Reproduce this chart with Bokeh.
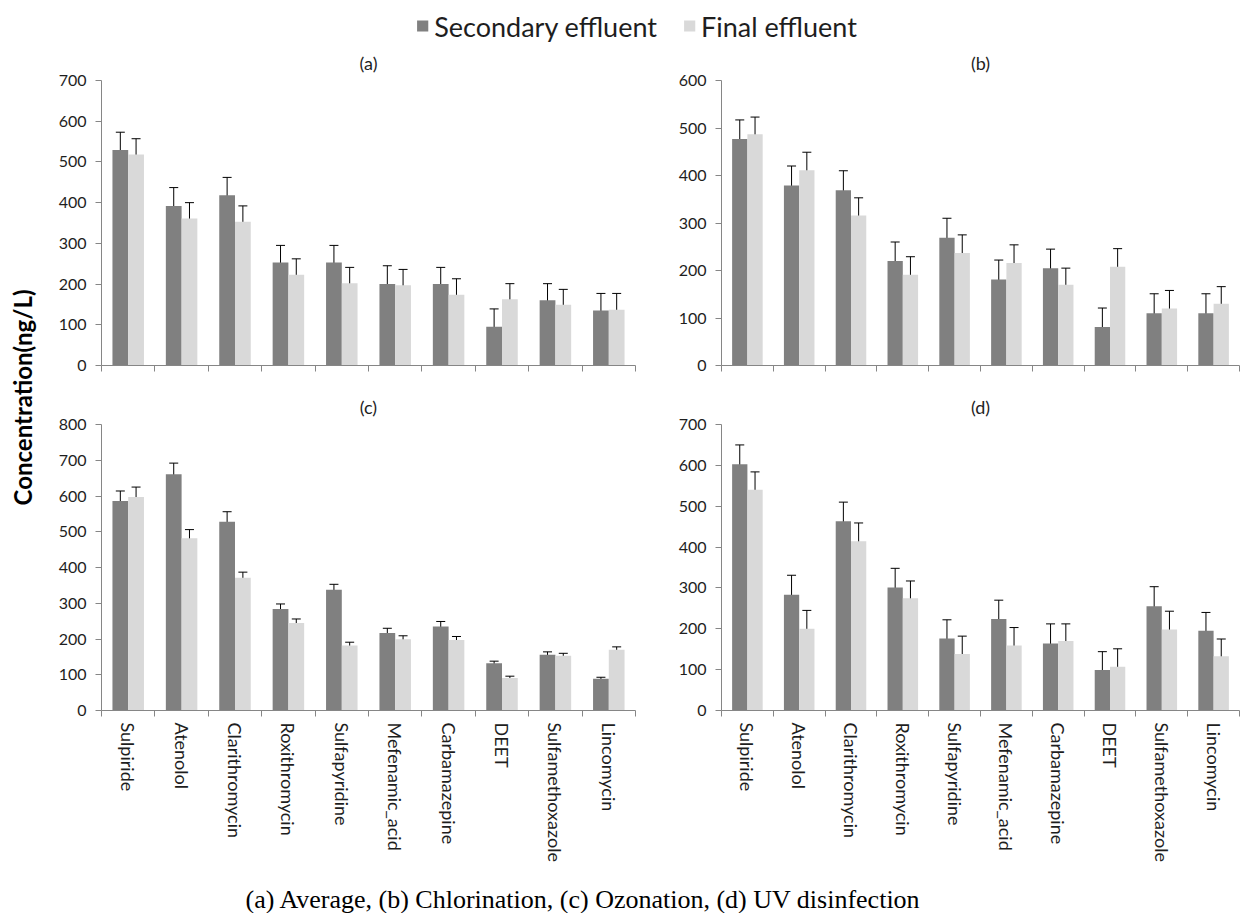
import math
import numpy as np
from bokeh.plotting import figure
from bokeh.models import (ColumnDataSource, Whisker, TeeHead, FixedTicker, Range1d,
                          Legend, LegendItem, Spacer)
from bokeh.layouts import column, row
from bokeh.embed import file_html
from bokeh.resources import INLINE

# ---------------- data ----------------
compounds = ["Sulpiride", "Atenolol", "Clarithromycin", "Roxithromycin", "Sulfapyridine",
             "Mefenamic_acid", "Carbamazepine", "DEET", "Sulfamethoxazole", "Lincomycin"]

# (a) Average
avg_secondary = [529, 392, 418, 253, 253, 200, 200, 95, 160, 135]
avg_secondary_err = [44, 45, 44, 42, 42, 45, 41, 44, 41, 42]
avg_final = [518, 361, 353, 223, 202, 197, 174, 163, 149, 137]
avg_final_err = [39, 39, 39, 39, 39, 39, 39, 38, 38, 40]

# (b) Chlorination
chl_secondary = [477, 379, 369, 220, 269, 181, 205, 81, 110, 110]
chl_secondary_err = [40, 41, 41, 40, 41, 41, 40, 40, 41, 41]
chl_final = [487, 411, 316, 191, 237, 216, 170, 208, 120, 130]
chl_final_err = [36, 38, 37, 38, 38, 38, 35, 38, 38, 36]

# (c) Ozonation
ozo_secondary = [586, 661, 528, 284, 338, 217, 235, 132, 156, 89]
ozo_secondary_err = [28, 31, 28, 14, 15, 13, 14, 6, 8, 4]
ozo_final = [597, 482, 371, 245, 182, 199, 197, 91, 153, 170]
ozo_final_err = [28, 24, 16, 11, 9, 10, 10, 5, 7, 8]

# (d) UV disinfection
uv_secondary = [603, 283, 463, 301, 176, 224, 164, 99, 255, 195]
uv_secondary_err = [47, 48, 47, 47, 46, 46, 48, 45, 48, 45]
uv_final = [540, 200, 414, 275, 138, 159, 170, 107, 198, 133]
uv_final_err = [44, 45, 45, 42, 44, 44, 42, 44, 45, 42]

panel_titles = ["(a)", "(b)", "(c)", "(d)"]
y_max = [700, 600, 800, 700]
series_labels = ["Secondary effluent", "Final effluent"]
y_title = "Concentration(ng/L)"
caption = "(a) Average, (b) Chlorination, (c) Ozonation, (d) UV disinfection"

# ---------------- style ----------------
DARK = "#808080"
LIGHT = "#d9d9d9"
AXIS = "#868686"
TXT = "#1e1e1e"
FONT = "Lato"
BW = 0.295


def bar_source(sec, sec_err, fin, fin_err):
    n = len(compounds)
    centers = np.arange(n) + 0.5
    sec = np.array(sec, float)
    fin = np.array(fin, float)
    se = np.array(sec_err, float)
    fe = np.array(fin_err, float)
    return ColumnDataSource(dict(
        xs=centers - BW / 2, xf=centers + BW / 2,
        sec=sec, sec_lo=sec - se, sec_hi=sec + se,
        fin=fin, fin_lo=fin - fe, fin_hi=fin + fe,
    ))


def make_panel(title, sec, sec_err, fin, fin_err, ymax, width, height,
               mbl, mbr, mbt, mbb, show_labels):
    n = len(compounds)
    centers = np.arange(n) + 0.5
    src = bar_source(sec, sec_err, fin, fin_err)
    p = figure(width=width, height=height, x_range=Range1d(0, n), y_range=Range1d(0, ymax),
               output_backend="svg", toolbar_location=None,
               min_border_left=mbl, min_border_right=mbr,
               min_border_top=mbt, min_border_bottom=mbb)
    p.title.text = title
    p.title.align = "center"
    p.title.text_font = FONT
    p.title.text_font_size = "18px"
    p.title.text_font_style = "normal"
    p.title.text_color = TXT
    p.title.standoff = 13

    p.vbar(x="xs", top="sec", width=BW, bottom=0, fill_color=DARK, line_color=None, source=src)
    p.vbar(x="xf", top="fin", width=BW, bottom=0, fill_color=LIGHT, line_color=None, source=src)
    for base, lo, hi in (("xs", "sec_lo", "sec_hi"), ("xf", "fin_lo", "fin_hi")):
        p.add_layout(Whisker(base=base, lower=lo, upper=hi, source=src, dimension="height",
                             line_color="black", line_width=1,
                             upper_head=TeeHead(size=9, line_color="black", line_width=1),
                             lower_head=TeeHead(size=9, line_color="black", line_width=1)))

    p.grid.visible = False
    p.outline_line_color = None
    p.background_fill_color = None
    p.border_fill_color = None

    xa = p.xaxis[0]
    xa.ticker = FixedTicker(ticks=list(centers) if show_labels else [],
                            minor_ticks=list(range(n + 1)))
    if show_labels:
        xa.major_label_overrides = {float(c): name for c, name in zip(centers, compounds)}
    xa.major_label_orientation = -math.pi / 2
    xa.major_tick_line_color = None
    xa.major_tick_out = 6
    xa.major_tick_in = 0
    xa.minor_tick_out = 6
    xa.minor_tick_in = 0
    xa.minor_tick_line_color = AXIS
    xa.axis_line_color = AXIS
    xa.major_label_standoff = 6
    xa.major_label_text_font = FONT
    xa.major_label_text_font_size = "18px"
    xa.major_label_text_color = TXT

    ya = p.yaxis[0]
    ya.ticker = FixedTicker(ticks=list(range(0, ymax + 1, 100)), minor_ticks=[])
    ya.major_tick_out = 6
    ya.major_tick_in = 0
    ya.major_tick_line_color = AXIS
    ya.minor_tick_line_color = None
    ya.axis_line_color = AXIS
    ya.major_label_standoff = 9
    ya.major_label_text_font = FONT
    ya.major_label_text_font_size = "16px"
    ya.major_label_text_color = TXT
    return p


W_L, W_R = 620, 574
H1, H2 = 343, 489
pa = make_panel(panel_titles[0], avg_secondary, avg_secondary_err, avg_final, avg_final_err,
                y_max[0], W_L, H1, 54, 32, 36, 21, False)
pb = make_panel(panel_titles[1], chl_secondary, chl_secondary_err, chl_final, chl_final_err,
                y_max[1], W_R, H1, 54, 2, 36, 21, False)
pc = make_panel(panel_titles[2], ozo_secondary, ozo_secondary_err, ozo_final, ozo_final_err,
                y_max[2], W_L, H2, 54, 32, 38, 165, True)
pd = make_panel(panel_titles[3], uv_secondary, uv_secondary_err, uv_final, uv_final_err,
                y_max[3], W_R, H2, 54, 2, 38, 165, True)

TOTAL_W = 47 + W_L + W_R

# ---------------- legend strip ----------------
# the swatch renderers hold the data but sit outside the visible range of this strip
leg = figure(width=TOTAL_W, height=43, output_backend="svg", toolbar_location=None,
             x_axis_type=None, y_axis_type=None, x_range=Range1d(0, len(compounds)),
             y_range=Range1d(5000, 5001),
             min_border_left=386, min_border_right=355, min_border_top=8, min_border_bottom=0)
leg.outline_line_color = None
leg.grid.visible = False
lsrc = bar_source(avg_secondary, avg_secondary_err, avg_final, avg_final_err)
r1 = leg.vbar(x="xs", top="sec", width=BW, bottom=0, fill_color=DARK, line_color=None, source=lsrc)
r2 = leg.vbar(x="xf", top="fin", width=BW, bottom=0, fill_color=LIGHT, line_color=None, source=lsrc)
legend = Legend(items=[LegendItem(label=series_labels[0], renderers=[r1]),
                       LegendItem(label=series_labels[1], renderers=[r2])],
                orientation="horizontal", location="center",
                glyph_width=14, glyph_height=14, label_standoff=5, spacing=25,
                padding=0, margin=0, border_line_color=None, background_fill_alpha=0,
                label_text_font=FONT, label_text_font_size="27px", label_text_color=TXT)
leg.add_layout(legend, "center")

# ---------------- y title strip ----------------
yt = figure(width=47, height=H1 + H2, output_backend="svg", toolbar_location=None,
            x_axis_type=None, y_axis_type=None, x_range=Range1d(0, 1), y_range=Range1d(0, 1),
            title=y_title, title_location="left",
            min_border_left=0, min_border_right=0, min_border_top=0, min_border_bottom=124)
yt.outline_line_color = None
yt.grid.visible = False
yt.title.align = "center"
yt.title.text_font = FONT
yt.title.text_font_size = "24px"
yt.title.text_font_style = "bold"
yt.title.text_color = "#000000"

# ---------------- caption strip ----------------
CAP_W = 760
cap = figure(width=CAP_W, height=38, output_backend="svg", toolbar_location=None,
             x_axis_type=None, y_axis_type=None, x_range=Range1d(0, 1), y_range=Range1d(0, 1),
             title=caption, title_location="below",
             min_border_left=0, min_border_right=0, min_border_top=0, min_border_bottom=0)
cap.outline_line_color = None
cap.grid.visible = False
cap.title.align = "center"
cap.title.standoff = 0
cap.title.text_font = "Liberation Serif"
cap.title.text_font_size = "26px"
cap.title.text_font_style = "normal"
cap.title.text_color = "#000000"

cap_row = row(Spacer(width=583 - CAP_W // 2, height=38), cap)

layout = column(leg, row(yt, column(row(pa, pb), row(pc, pd))), cap_row)

open("out.html", "w").write(file_html(layout, INLINE))
